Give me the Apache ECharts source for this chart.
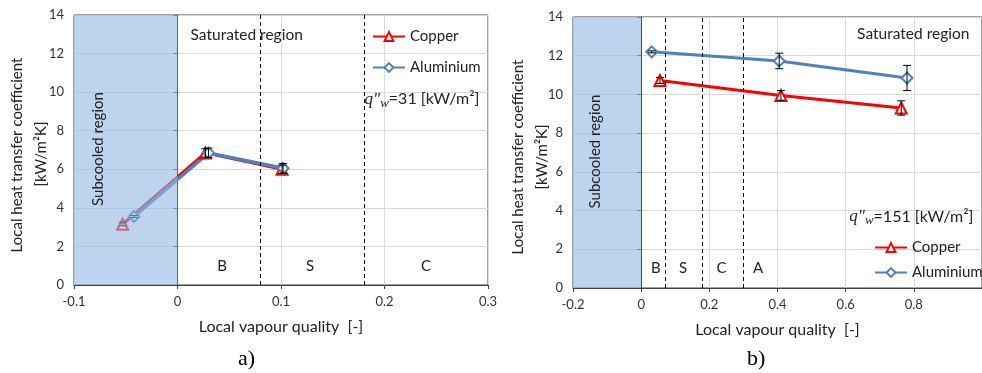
<!DOCTYPE html>
<html>
<head>
<meta charset="utf-8">
<script src="https://cdn.jsdelivr.net/npm/echarts@6/dist/echarts.min.js"></script>
<style>
  html, body { margin: 0; padding: 0; background: #fff; }
  #main { width: 982px; height: 373px; }
</style>
</head>
<body>
<div id="main"></div>
<script>
// panel a)  q"w = 31 kW/m2
const copperA = [[-0.053, 3.15], [0.027, 6.85], [0.101, 6.0]]
const aluA = [[-0.042, 3.55], [0.030, 6.85], [0.102, 6.05]]
const copperErrA = [0.08, 0.22, 0.22]
const aluErrA = [0.05, 0.25, 0.25]
const dashA = [0.08, 0.18]
const regionNamesA = ['B', 'S', 'C']
const regionXA = [0.043, 0.128, 0.24]

// panel b)  q"w = 151 kW/m2
const copperB = [[0.055, 10.72], [0.41, 9.95], [0.763, 9.3]]
const aluB = [[0.031, 12.2], [0.405, 11.73], [0.78, 10.85]]
const copperErrB = [0.15, 0.25, 0.37]
const aluErrB = [0.05, 0.4, 0.65]
const dashB = [0.072, 0.182, 0.298]
const regionNamesB = ['B', 'S', 'C', 'A']
const regionXB = [0.043, 0.123, 0.236, 0.343]

const xRangeA = [-0.1, 0.3, 0.1]
const xRangeB = [-0.2, 1.0, 0.2]
const yRange = [0, 14, 2]

const RED = '#FF0000'
const BLUE = '#4F81BD'
const FONT = 'Lato'

const withErr = (pts, errs) => pts.map((p, i) => [p[0], p[1], errs[i]])

const errorBars = (params, api) => {
  const x = api.value(0)
  const y = api.value(1)
  const e = api.value(2)
  const top = api.coord([x, y + e])
  const bot = api.coord([x, y - e])
  const st = { stroke: '#000', lineWidth: 1 }
  return {
    type: 'group',
    children: [
      { type: 'line', shape: { x1: top[0], y1: top[1], x2: bot[0], y2: bot[1] }, style: st },
      { type: 'line', shape: { x1: top[0] - 4, y1: top[1], x2: top[0] + 4, y2: top[1] }, style: st },
      { type: 'line', shape: { x1: bot[0] - 4, y1: bot[1], x2: bot[0] + 4, y2: bot[1] }, style: st },
    ],
  }
}

// subcooled shading, drawn above the lines like in the original
const shadeRect = (params, api) => {
  const a = api.coord([api.value(0), yRange[1]])
  const b = api.coord([api.value(1), yRange[0]])
  return {
    type: 'rect',
    shape: { x: a[0], y: a[1], width: b[0] - a[0], height: b[1] - a[1] },
    style: { fill: 'rgba(145,182,227,0.6)' },
  }
}

const makeX = (idx, r) => ({
  type: 'value',
  gridIndex: idx,
  min: r[0],
  max: r[1],
  interval: r[2],
  name: 'Local vapour quality  [-]',
  nameLocation: 'middle',
  nameGap: 34,
  nameTextStyle: { fontFamily: FONT, fontSize: 16, color: '#222' },
  axisLine: { onZero: false, lineStyle: { color: '#404040', width: 1 } },
  axisTick: { show: true, length: 4, lineStyle: { color: '#404040' } },
  axisLabel: {
    fontFamily: FONT, fontSize: 13, color: '#333', margin: 10,
    showMaxLabel: idx === 0,
    formatter: v => String(Math.round(v * 10) / 10),
  },
  splitLine: { show: true, lineStyle: { color: '#D9D9D9', width: 1 } },
})

const makeY = idx => ({
  type: 'value',
  gridIndex: idx,
  min: yRange[0],
  max: yRange[1],
  interval: yRange[2],
  axisLine: { show: true, lineStyle: { color: '#404040', width: 1 } },
  axisTick: { show: true, length: 4, lineStyle: { color: '#404040' } },
  axisLabel: { fontFamily: FONT, fontSize: 13, color: '#333', margin: 10 },
  splitLine: { show: true, lineStyle: { color: '#D9D9D9', width: 1 } },
})

const lineSeries = (name, data, idx, color, symbol, size, width) => ({
  name,
  type: 'line',
  xAxisIndex: idx,
  yAxisIndex: idx,
  data,
  z: 3,
  symbol,
  symbolSize: size,
  lineStyle: { color, width },
  itemStyle: { color, borderWidth: 1.2 },
})

const errSeries = (data, idx) => ({
  type: 'custom',
  xAxisIndex: idx,
  yAxisIndex: idx,
  data,
  z: 4,
  silent: true,
  renderItem: errorBars,
})

const overlaySeries = (idx, xMin, dashes) => ({
  type: 'custom',
  xAxisIndex: idx,
  yAxisIndex: idx,
  data: [[xMin, 0]],
  z: 6,
  silent: true,
  clip: true,
  renderItem: shadeRect,
  markLine: {
    silent: true,
    symbol: 'none',
    label: { show: false },
    lineStyle: { color: '#000', type: [4, 3], width: 1 },
    data: dashes.map(d => ({ xAxis: d })),
  },
})

const myChart = echarts.init(document.getElementById('main'))
myChart.setOption({
  animation: false,
  backgroundColor: '#fff',
  grid: [
    { left: 74, top: 15, width: 414, height: 270, show: true, borderColor: '#404040', borderWidth: 1 },
    { left: 573, top: 17, width: 414, height: 271, show: true, borderColor: '#404040', borderWidth: 1 },
  ],
  xAxis: [makeX(0, xRangeA), makeX(1, xRangeB)],
  yAxis: [makeY(0), makeY(1)],
  legend: [
    {
      left: 372, top: 29, padding: 0, orient: 'vertical', itemWidth: 32, itemHeight: 11, itemGap: 16,
      data: ['Copper', 'Aluminium'],
      textStyle: { fontFamily: FONT, fontSize: 15, color: '#222' },
    },
    {
      left: 874, top: 240, padding: 0, orient: 'vertical', itemWidth: 32, itemHeight: 11, itemGap: 10,
      data: ['Copper', 'Aluminium'],
      textStyle: { fontFamily: FONT, fontSize: 15, color: '#222' },
    },
  ],
  series: [
    lineSeries('Copper', copperA, 0, RED, 'emptyTriangle', 11, 3),
    lineSeries('Aluminium', aluA, 0, BLUE, 'emptyDiamond', 11, 3.5),
    errSeries(withErr(copperA, copperErrA), 0),
    errSeries(withErr(aluA, aluErrA), 0),
    overlaySeries(0, xRangeA[0], dashA),
    lineSeries('Copper', copperB, 1, RED, 'emptyTriangle', 11, 3),
    lineSeries('Aluminium', aluB, 1, BLUE, 'emptyDiamond', 11, 3),
    errSeries(withErr(copperB, copperErrB), 1),
    errSeries(withErr(aluB, aluErrB), 1),
    overlaySeries(1, xRangeB[0], dashB),
  ],
})

// annotations placed in data coordinates
const px = (g, x, y) => myChart.convertToPixel({ gridIndex: g }, [x, y])
const txt = (g, x, y, text, extra) => {
  const p = px(g, x, y)
  return {
    type: 'text', x: p[0], y: p[1], z: 100,
    style: Object.assign({ text, fontFamily: FONT, fontSize: 15, fill: '#222', align: 'left', verticalAlign: 'middle' }, extra || {}),
  }
}
const qText = (val) => ({
  text: '{q|q"}{w|w}=' + val + ' [kW/m²]',
  rich: {
    q: { fontFamily: 'Liberation Serif', fontStyle: 'italic', fontSize: 17, fill: '#222' },
    w: { fontFamily: 'Liberation Serif', fontStyle: 'italic', fontSize: 13, fill: '#222', padding: [8, 0, 0, 0] },
  },
})
const vText = (x, y, text) => ({
  type: 'text', x, y, rotation: Math.PI / 2, z: 100,
  style: { text, fontFamily: FONT, fontSize: 15, fill: '#222', align: 'center', verticalAlign: 'middle' },
})

const graphics = []
regionNamesA.forEach((n, i) => graphics.push(txt(0, regionXA[i], 0.98, n, { align: 'center' })))
regionNamesB.forEach((n, i) => graphics.push(txt(1, regionXB[i], 1.02, n, { align: 'center' })))
graphics.push(txt(0, 0.0126, 12.95, 'Saturated region', { fontSize: 15.5 }))
graphics.push(txt(1, 0.963, 13.14, 'Saturated region', { align: 'right', fontSize: 15.5 }))
graphics.push(txt(0, 0.1807, 9.64, '', Object.assign(qText(31), { fontSize: 16 })))
graphics.push(txt(1, 0.975, 3.7, '', Object.assign(qText(151), { fontSize: 16, align: 'right' })))
const subA = px(0, -0.0763, 7.05)
const subB = px(1, -0.135, 7.05)
;[subA, subB].forEach(p => graphics.push(vText(p[0], p[1], 'Subcooled region')))
// y axis titles
graphics.push(vText(17, 155, 'Local heat transfer coefficient'))
graphics.push(vText(41, 154, '[kW/m²K]'))
graphics.push(vText(518, 157, 'Local heat transfer coefficient'))
graphics.push(vText(542, 157, '[kW/m²K]'))
graphics.push({ type: 'text', left: 238, top: 348, z: 100, style: { text: 'a)', fontFamily: 'Liberation Serif', fontSize: 22, fill: '#000' } })
graphics.push({ type: 'text', left: 747, top: 348, z: 100, style: { text: 'b)', fontFamily: 'Liberation Serif', fontSize: 22, fill: '#000' } })

myChart.setOption({ graphic: graphics })
</script>
</body>
</html>
